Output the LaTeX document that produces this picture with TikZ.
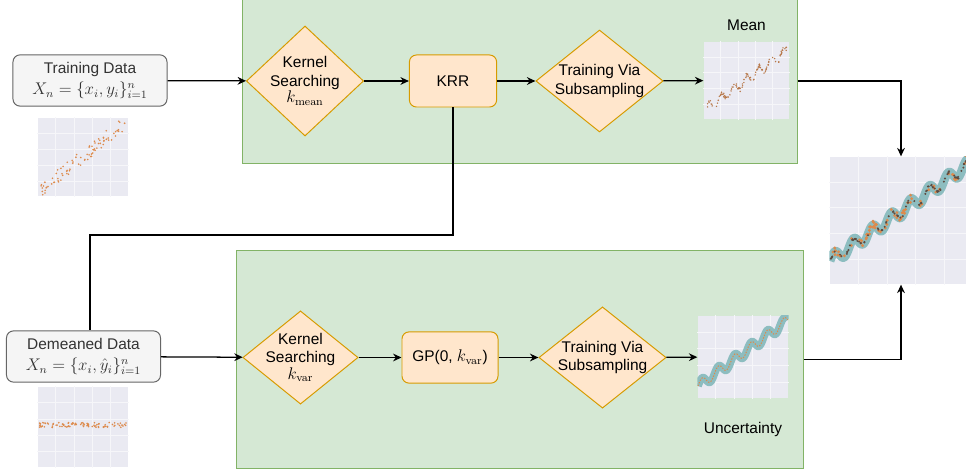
\documentclass[tikz,border=0pt]{standalone}
\usepackage[no-math]{fontspec}
\setmainfont{Liberation Sans}
\usetikzlibrary{shapes.geometric,positioning,calc,arrows.meta}

\definecolor{panelfill}{HTML}{D5E8D4}
\definecolor{panelline}{HTML}{82B366}
\definecolor{stepfill}{HTML}{FFE6CC}
\definecolor{stepline}{HTML}{D79B00}
\definecolor{boxfill}{HTML}{F5F5F5}
\definecolor{boxline}{HTML}{666666}
\definecolor{boxtext}{HTML}{333333}
\definecolor{plotbg}{HTML}{EAEAF2}
\definecolor{dotorange}{HTML}{DD8A4C}
\definecolor{dotdark}{HTML}{5E4B40}
\definecolor{bandteal}{HTML}{8DBDC0}

\newcommand{\bigmath}[1]{{\fontsize{12}{14}\selectfont$#1$}}

\begin{document}
\begin{tikzpicture}[x=0.025cm,y=-0.025cm,>={Stealth[length=6pt,width=5.5pt]},
    line width=0.9pt,
    every node/.style={font=\fontsize{11}{13}\selectfont},
    panel/.style={draw=panelline,fill=panelfill,line width=0.7pt,inner sep=0pt},
    databox/.style={rectangle,rounded corners=5pt,draw=boxline,fill=boxfill,
      text=boxtext,align=center,line width=0.7pt,inner sep=1pt,
      minimum width=3.85cm,minimum height=1.28cm},
    decision/.style={diamond,draw=stepline,fill=stepfill,line width=0.7pt,inner sep=0pt},
    process/.style={rectangle,rounded corners=5pt,draw=stepline,fill=stepfill,
      line width=0.7pt,minimum height=1.3cm},
    plotbox/.style={fill=plotbg,inner sep=0pt},
    gridline/.style={white!55!plotbg,line width=0.25pt}]
\useasboundingbox (0,0) rectangle (966,472);

% panels
\node[panel,minimum width=13.85cm,minimum height=4.1cm] (toppanel) at (520,81) {};
\node[panel,minimum width=14.15cm,minimum height=5.425cm] (botpanel) at (520,359.5) {};

% data
\node[databox] (train) at (90,80.5) {Training Data\\[2pt]\bigmath{X_n=\{x_i,y_i\}_{i=1}^n}};
\node[databox] (demeaned) at (83.5,356.5) {Demeaned Data\\[2pt]\bigmath{X_n=\{x_i,\hat{y}_i\}_{i=1}^n}};

% mean branch
\node[decision,minimum width=2.93cm,minimum height=2.75cm,
  label={[align=center]center:Kernel\\Searching\\[-1pt]\bigmath{k_{\mathrm{mean}}}}] (ks1) at (305,81) {};
\node[process,minimum width=2.18cm] (krr) at (453,81) {KRR};
\node[decision,minimum width=3.18cm,minimum height=2.55cm,
  label={[align=center]center:Training Via\\Subsampling}] (tv1) at (599.5,81) {};
\node[plotbox,minimum width=2.125cm,minimum height=1.925cm] (meanplot) at (746.5,80.5) {};
\node[above=0.13cm of meanplot] (meanlabel) {Mean};

% uncertainty branch
\node[decision,minimum width=2.88cm,minimum height=2.33cm,
  label={[align=center]center:Kernel\\Searching\\[-1pt]\bigmath{k_{\mathrm{var}}}}] (ks2) at (300.5,357.5) {};
\node[process,minimum width=2.4cm,minimum height=1.28cm] (gp) at (450,357.5) {GP(0, \bigmath{k_{\mathrm{var}}})};
\node[decision,minimum width=3.18cm,minimum height=2.53cm,
  label={[align=center]center:Training Via\\Subsampling}] (tv2) at (602.5,357.5) {};
\node[plotbox,minimum width=2.25cm,minimum height=2.05cm] (uncplot) at (743,357) {};
\node[below=0.45cm of uncplot] (unclabel) {Uncertainty};

% data plots
\node[plotbox,minimum width=2.25cm,minimum height=1.95cm] (trainplot) at (83,157) {};
\node[plotbox,minimum width=2.25cm,minimum height=2cm] (demplot) at (83,427) {};
\node[plotbox,minimum width=3.55cm,minimum height=3.175cm] (finalplot) at (901,220.5) {};

\foreach \p in {trainplot,demplot,meanplot,uncplot,finalplot}{
  \foreach \g in {0.2,0.4,0.6,0.8}{
    \draw[gridline] ($(\p.south west)!\g!(\p.south east)$) -- ($(\p.north west)!\g!(\p.north east)$);
    \draw[gridline] ($(\p.south west)!\g!(\p.north west)$) -- ($(\p.south east)!\g!(\p.north east)$);
  }
}

\pgfmathsetseed{11}
\foreach \i in {1,...,85}{
  \pgfmathsetmacro\t{rnd}
  \fill[dotorange] ({41+85*\t},{190-68*\t+7*rand}) circle[radius=0.9];
}
\foreach \i in {1,...,90}{
  \pgfmathsetmacro\t{rnd}
  \fill[dotorange] ({39+88*\t},{425+2.5*rand}) circle[radius=0.9];
}
\foreach \i in {1,...,110}{
  \pgfmathsetmacro\t{rnd}
  \fill[dotorange!70!dotdark] ({706+81*\t},{110-60*\t-5*sin(360*6.5*\t)+2*rand}) circle[radius=0.8];
}

\begin{scope}
  \clip (uncplot.south west) rectangle (uncplot.north east);
  \draw[bandteal,line width=0.19cm] plot[domain=0:1,samples=150,smooth]
    ({698+90*\x},{386-66*\x-5*sin(360*5.5*\x)});
  \draw[dotorange,line width=0.7pt,dash pattern=on 1pt off 1pt] plot[domain=0:1,samples=150,smooth]
    ({698+90*\x},{386-66*\x-5*sin(360*5.5*\x)});
\end{scope}

\begin{scope}
  \clip (finalplot.south west) rectangle (finalplot.north east);
  \draw[bandteal,line width=0.22cm] plot[domain=0:1,samples=200,smooth]
    ({830+142*\x},{261-99*\x-6*sin(360*7.5*\x)});
  \foreach \i in {1,...,70}{
    \pgfmathsetmacro\t{rnd}
    \fill[dotorange] ({830+142*\t},{261-99*\t-6*sin(360*7.5*\t)+4*rand}) circle[radius=1.6];
  }
  \foreach \i in {1,...,90}{
    \pgfmathsetmacro\t{rnd}
    \fill[dotdark] ({830+142*\t},{261-99*\t-6*sin(360*7.5*\t)+1.2*rand}) circle[radius=1.1];
  }
\end{scope}

% connectors
\draw[->] (train) -- (ks1);
\draw[->] (ks1) -- (krr);
\draw[->] (krr) -- (tv1);
\draw[->] (tv1) -- (meanplot);
\draw[->] (demeaned) -- (ks2);
\draw[->] (ks2) -- (gp);
\draw[->] (gp) -- (tv2);
\draw[->] (tv2) -- (uncplot);
\coordinate (bend) at (90,235);
\draw (krr.south) |- (bend) -- (bend |- demeaned.north);
\draw[->] (toppanel.east) -| (finalplot.north);
\draw[->] (botpanel.east) -| (finalplot.south);
\end{tikzpicture}
\end{document}
